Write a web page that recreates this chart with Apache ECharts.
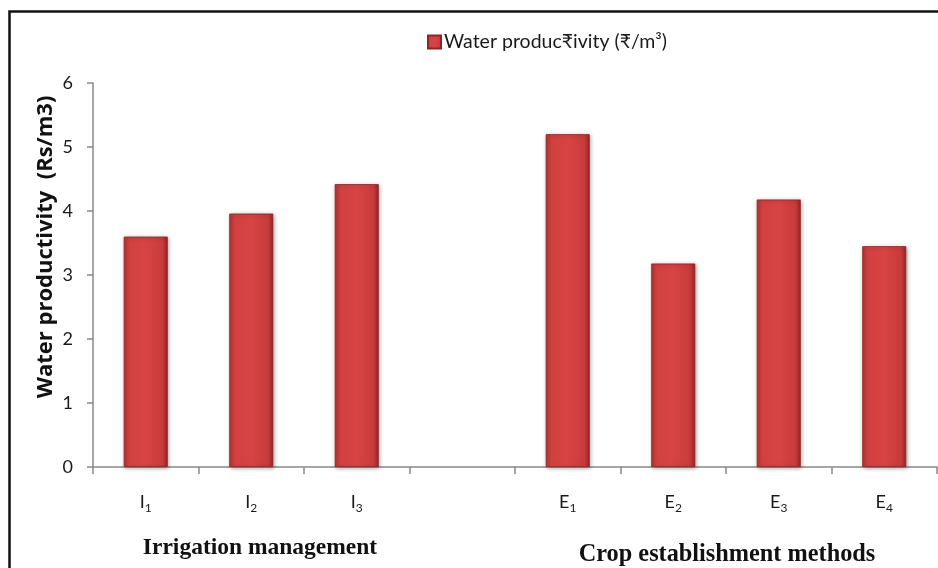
<!DOCTYPE html>
<html>
<head>
<meta charset="utf-8">
<script src="https://cdn.jsdelivr.net/npm/echarts@6/dist/echarts.min.js"></script>
<style>html,body{margin:0;padding:0;background:#fff;}#c{width:938px;height:568px;}</style>
</head>
<body>
<div id="c"></div>
<script>
const categories = ['I1', 'I2', 'I3', '', 'E1', 'E2', 'E3', 'E4'];
const waterProductivity = [3.60, 3.96, 4.42, null, 5.20, 3.18, 4.18, 3.45];
const seriesName = 'Water produc\u20b9ivity (\u20b9/m\u00b3)';
const yAxisTitle = 'Water productivity  (Rs/m3)';
const groupLabels = ['Irrigation management', 'Crop establishment methods'];
const yTicks = [0, 1, 2, 3, 4, 5, 6];

const chart = echarts.init(document.getElementById('c'), null, {renderer: 'canvas'});
const barColor = {
  type: 'linear', x: 0, y: 0, x2: 1, y2: 0,
  colorStops: [
    {offset: 0, color: '#b53434'},
    {offset: 0.12, color: '#d24040'},
    {offset: 0.5, color: '#d84444'},
    {offset: 0.88, color: '#c83b3b'},
    {offset: 1, color: '#9a2626'}
  ]
};
const option = {
  backgroundColor: '#ffffff',
  animation: false,
  legend: {
    left: 427, top: 32, padding: 0,
    itemWidth: 13, itemHeight: 13, itemGap: 4,
    icon: 'rect',
    textStyle: {fontFamily: 'Lato', fontSize: 19.5, color: '#1a1a1a', padding: [0, 0, 0, -2]},
    data: [seriesName]
  },
  grid: {left: 93, right: 1, top: 83, bottom: 101, containLabel: false},
  xAxis: {
    type: 'category',
    data: categories,
    boundaryGap: true,
    axisLine: {lineStyle: {color: '#898989', width: 1.5}},
    axisTick: {show: true, length: 7, lineStyle: {color: '#898989', width: 1.5}},
    axisLabel: {
      margin: 24,
      formatter: function (v) { return v ? '{m|' + v.charAt(0) + '}{s|' + v.slice(1) + '}' : ''; },
      rich: {
        m: {fontFamily: 'Lato', fontSize: 18, color: '#1a1a1a', verticalAlign: 'bottom', lineHeight: 20},
        s: {fontFamily: 'Lato', fontSize: 12, color: '#1a1a1a', verticalAlign: 'bottom', lineHeight: 20, padding: [0, 0, -3, 0]}
      }
    }
  },
  yAxis: {
    type: 'value',
    min: yTicks[0], max: yTicks[yTicks.length - 1], interval: 1,
    splitLine: {show: false},
    axisLine: {show: true, lineStyle: {color: '#898989', width: 1.5}},
    axisTick: {show: true, length: 6, lineStyle: {color: '#898989', width: 1.5}},
    axisLabel: {fontFamily: 'Lato', fontSize: 18, color: '#1a1a1a', margin: 20}
  },
  series: [{
    name: seriesName,
    type: 'bar',
    data: waterProductivity,
    barWidth: 44,
    itemStyle: {
      color: barColor,
      borderColor: '#8e2424',
      borderWidth: 0.8,
      shadowColor: 'rgba(0,0,0,0.35)',
      shadowBlur: 4,
      shadowOffsetX: 1,
      shadowOffsetY: 1
    }
  }],
  graphic: [
    {type: 'rect', shape: {x: 9.5, y: 11.5, width: 1200, height: 1200}, style: {fill: null, stroke: '#111', lineWidth: 2.5}, silent: true},
    {type: 'text', x: 46, y: 247, rotation: Math.PI / 2, style: {text: yAxisTitle, fontFamily: 'Open Sans', fontWeight: 'bold', fontSize: 22, fill: '#111', align: 'center', verticalAlign: 'middle'}},
    {type: 'text', x: 260, y: 548, style: {text: groupLabels[0], fontFamily: 'Liberation Serif', fontWeight: 'bold', fontSize: 23.5, fill: '#111', align: 'center', verticalAlign: 'middle'}},
    {type: 'text', x: 727, y: 555, style: {text: groupLabels[1], fontFamily: 'Liberation Serif', fontWeight: 'bold', fontSize: 24.3, fill: '#111', align: 'center', verticalAlign: 'middle'}}
  ]
};
chart.setOption(option);
</script>
</body>
</html>
